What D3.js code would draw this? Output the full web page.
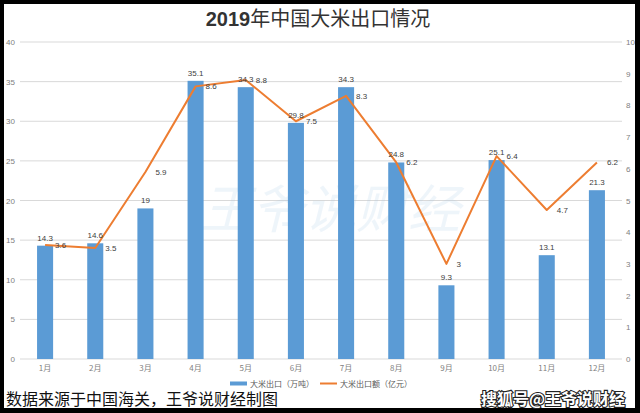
<!DOCTYPE html>
<html><head><meta charset="utf-8">
<script src="https://cdn.jsdelivr.net/npm/d3@7"></script>
<style>html,body{margin:0;padding:0;background:#000;}svg{display:block;}</style>
</head><body>
<svg id="c" width="640" height="413"></svg>
<script>
const months = ["1月","2月","3月","4月","5月","6月","7月","8月","9月","10月","11月","12月"];
const volume = [14.3,14.6,19,35.1,34.3,29.8,34.3,24.8,9.3,25.1,13.1,21.3];
const value = [3.6,3.5,5.9,8.6,8.8,7.5,8.3,6.2,3,6.4,4.7,6.2];
const leftTicks = [0,5,10,15,20,25,30,35,40];
const rightTicks = [0,1,2,3,4,5,6,7,8,9,10];
const seriesNames = ["大米出口（万吨）","大米出口额（亿元）"];

const svg = d3.select("#c");
const W = 640, H = 413;
svg.append("rect").attr("width",W).attr("height",H).attr("fill","#000");
svg.append("rect").attr("x",4).attr("y",4).attr("width",631).attr("height",404).attr("fill","#fff");

const x = d3.scaleBand().domain(months).range([20,622]).paddingInner(0.68).paddingOuter(0.34);
const yL = d3.scaleLinear().domain([0,40]).range([359,42]);
const yR = d3.scaleLinear().domain([0,10]).range([359,42]);
const numFont = "'Liberation Sans', Arial, sans-serif";
const cjk = "'Noto Sans CJK SC', sans-serif";

// gridlines
svg.append("g").selectAll("line").data(leftTicks).join("line")
  .attr("x1",20).attr("x2",622).attr("y1",d=>yL(d)).attr("y2",d=>yL(d))
  .attr("stroke","#d9d9d9").attr("stroke-width",1);

// watermark
svg.append("text").attr("x",330).attr("y",228).attr("text-anchor","middle")
  .attr("font-family",cjk).attr("font-size",52).attr("font-style","italic")
  .attr("fill","#9dc3e6").attr("opacity",0.16).text("王爷说财经");

// left axis
const axL = d3.axisLeft(yL).tickValues(leftTicks).tickSize(0).tickPadding(5);
const gL = svg.append("g").attr("transform","translate(20,0)").call(axL);
gL.select(".domain").remove();
gL.selectAll("text").attr("font-family",numFont).attr("font-size",8).attr("fill","#808080");
// right axis
const axR = d3.axisRight(yR).tickValues(rightTicks).tickSize(0).tickPadding(4);
const gR = svg.append("g").attr("transform","translate(622,0)").call(axR);
gR.select(".domain").remove();
gR.selectAll("text").attr("font-family",numFont).attr("font-size",8).attr("fill","#808080");
// x axis
const axX = d3.axisBottom(x).tickSize(0).tickPadding(6);
const gX = svg.append("g").attr("transform","translate(0,359)").call(axX);
gX.select(".domain").remove();
gX.selectAll("text").attr("font-family",cjk).attr("font-size",8).attr("fill","#808080");

// bars
svg.append("g").selectAll("rect").data(volume).join("rect")
  .attr("x",(d,i)=>x(months[i])).attr("width",x.bandwidth())
  .attr("y",d=>yL(d)).attr("height",d=>yL(0)-yL(d)).attr("fill","#5b9bd5");

// line
const line = d3.line().x((d,i)=>x(months[i])+x.bandwidth()/2).y(d=>yR(d));
svg.append("path").datum(value).attr("d",line).attr("fill","none")
  .attr("stroke","#ed7d31").attr("stroke-width",2).attr("stroke-linejoin","round");

// bar labels
svg.append("g").selectAll("text").data(volume).join("text")
  .attr("x",(d,i)=>x(months[i])+x.bandwidth()/2).attr("y",d=>yL(d)-5)
  .attr("text-anchor","middle").attr("font-family",numFont).attr("font-size",8).attr("fill","#404040")
  .text(d=>d);
// line labels
svg.append("g").selectAll("text").data(value).join("text")
  .attr("x",(d,i)=>x(months[i])+x.bandwidth()/2+10).attr("y",d=>yR(d)+3)
  .attr("text-anchor","start").attr("font-family",numFont).attr("font-size",8).attr("fill","#404040")
  .text(d=>d);

// title
const t = svg.append("text").attr("x",318).attr("y",26).attr("text-anchor","middle")
  .attr("font-family",cjk).attr("font-size",20).attr("fill","#333");
t.append("tspan").attr("font-family","'Liberation Sans', Arial, sans-serif").attr("font-weight","bold").text("2019");
t.append("tspan").text("年中国大米出口情况");

// legend
const lg = svg.append("g");
lg.append("rect").attr("x",230).attr("y",381.5).attr("width",17).attr("height",4).attr("fill","#5b9bd5");
lg.append("text").attr("x",250).attr("y",386.5).attr("font-family",cjk).attr("font-size",8).attr("fill","#595959").text(seriesNames[0]);
lg.append("line").attr("x1",320).attr("x2",337).attr("y1",383.5).attr("y2",383.5).attr("stroke","#ed7d31").attr("stroke-width",2);
lg.append("text").attr("x",340).attr("y",386.5).attr("font-family",cjk).attr("font-size",8).attr("fill","#595959").text(seriesNames[1]);

// source note
svg.append("text").attr("x",6).attr("y",405).attr("font-family",cjk).attr("font-size",16).attr("fill","#111")
  .text("数据来源于中国海关，王爷说财经制图");
// watermark brand
svg.append("text").attr("x",625).attr("y",405).attr("text-anchor","end").attr("font-family",cjk)
  .attr("font-size",16).attr("font-weight","bold").attr("fill","#fff").attr("stroke","#222").attr("stroke-width",2.2)
  .attr("paint-order","stroke").text("搜狐号@王爷说财经");
</script>
</body></html>
